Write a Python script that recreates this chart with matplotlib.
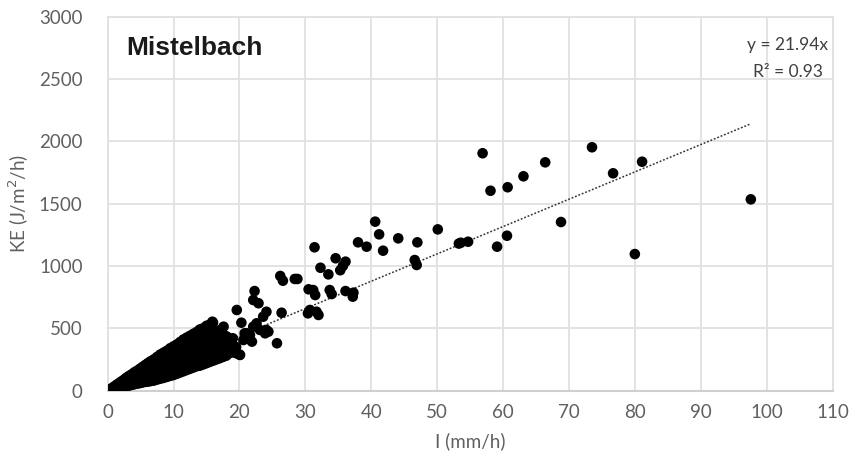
import matplotlib
matplotlib.use("Agg")
import matplotlib.pyplot as plt

# Dense cluster (x: intensity mm/h, y: KE)
cluster_x = [0.2, 0.2, 0.5, 0.5, 0.8, 0.8, 1.1, 1.1, 1.4, 1.4,
             1.7, 1.7, 1.7, 2.0, 2.0, 2.0, 2.3, 2.3, 2.3, 2.6, 2.6, 2.6,
             2.9, 2.9, 2.9, 3.2, 3.2, 3.2, 3.5, 3.5, 3.5, 3.8, 3.8, 3.8,
             4.1, 4.1, 4.1, 4.5, 4.5, 4.5, 4.5, 4.9, 4.9, 4.9, 4.9,
             5.3, 5.3, 5.3, 5.3, 5.7, 5.7, 5.7, 5.7, 6.1, 6.1, 6.1, 6.1,
             6.5, 6.5, 6.5, 6.5, 6.5, 7.0, 7.0, 7.0, 7.0, 7.0,
             7.5, 7.5, 7.5, 7.5, 7.5, 8.0, 8.0, 8.0, 8.0, 8.0,
             8.5, 8.5, 8.5, 8.5, 8.5, 9.0, 9.0, 9.0, 9.0, 9.0,
             9.5, 9.5, 9.5, 9.5, 9.5, 10.0, 10.0, 10.0, 10.0, 10.0,
             10.5, 10.5, 10.5, 10.5, 10.5, 11.0, 11.0, 11.0, 11.0, 11.0,
             11.5, 11.5, 11.5, 11.5, 11.5, 12.0, 12.0, 12.0, 12.0, 12.0,
             12.5, 12.5, 12.5, 12.5, 12.5, 13.0, 13.0, 13.0, 13.0, 13.0,
             13.5, 13.5, 13.5, 13.5, 13.5, 14.0, 14.0, 14.0, 14.0, 14.0,
             14.5, 14.5, 14.5, 14.5, 14.5, 15.0, 15.0, 15.0, 15.0, 15.0,
             15.5, 15.5, 15.5, 15.5, 15.5, 16.0, 16.0, 16.0, 16.0, 16.0,
             16.5, 16.5, 16.5, 17.0, 17.0, 17.0, 17.5, 17.5,
             18.0, 18.0, 18.0, 18.5, 18.5, 19.0, 19.0, 19.5, 19.5, 20.0]
cluster_y = [2, 6, 5, 14, 9, 25, 13, 36, 17, 48,
             21, 58, 38, 25, 70, 45, 29, 80, 52, 33, 92, 60,
             37, 105, 68, 40, 115, 75, 44, 125, 85, 48, 135, 92,
             52, 148, 100, 56, 160, 108, 140, 60, 175, 118, 150,
             65, 190, 125, 160, 70, 205, 130, 170, 72, 220, 140, 180,
             76, 235, 150, 195, 115, 80, 250, 160, 210, 120,
             88, 270, 170, 225, 130, 95, 290, 185, 240, 140,
             102, 305, 195, 255, 150, 110, 320, 205, 270, 160,
             118, 340, 215, 285, 165, 125, 355, 230, 300, 175,
             135, 370, 240, 310, 185, 145, 390, 250, 325, 195,
             155, 410, 260, 340, 205, 165, 425, 275, 355, 215,
             175, 440, 285, 370, 225, 185, 455, 300, 385, 240,
             195, 470, 310, 400, 250, 200, 490, 320, 410, 260,
             210, 500, 335, 420, 270, 220, 520, 350, 440, 280,
             230, 530, 360, 450, 290, 240, 545, 380, 460, 300,
             250, 400, 330, 260, 420, 350, 270, 380,
             280, 400, 330, 300, 370, 310, 420, 300, 350, 290]

# More cluster events lying between the columns above
cluster2_x = [3.0, 3.0, 4.3, 4.3, 5.1, 5.1, 5.1, 5.9, 5.9, 5.9,
              6.8, 6.8, 6.8, 6.8, 7.8, 7.8, 7.8, 7.8, 8.8, 8.8, 8.8, 8.8,
              9.8, 9.8, 9.8, 9.8, 10.8, 10.8, 10.8, 10.8,
              11.8, 11.8, 11.8, 11.8, 11.8, 12.8, 12.8, 12.8, 12.8,
              13.8, 13.8, 13.8, 13.8, 14.8, 14.8, 14.8, 14.8,
              15.8, 15.8, 15.8, 15.8, 16.8, 16.8, 16.8, 17.8, 17.8, 17.8,
              18.8, 18.8]
cluster2_y = [55, 90, 80, 125, 95, 140, 175, 100, 155, 195,
              105, 135, 185, 230, 115, 155, 205, 260, 125, 180, 235, 295,
              150, 200, 265, 325, 165, 220, 285, 355,
              185, 240, 305, 385, 410, 205, 260, 335, 420,
              225, 285, 360, 440, 245, 310, 390, 475,
              265, 330, 410, 500, 290, 360, 470, 300, 360, 440,
              330, 400]

# Scattered individual events
events_x = [56.9, 58.1, 60.7, 63.1, 66.4, 73.5, 76.7, 81.1, 97.6, 68.8,
            60.6, 59.1, 80.0, 53.6, 54.7, 53.3,
            40.6, 41.2, 41.8, 44.1, 47.0, 46.6, 46.9, 50.1,
            38.0, 39.3, 31.4, 34.6, 36.1, 35.7, 35.3, 32.3, 33.5,
            26.2, 26.6, 28.4, 28.8, 30.5, 31.2, 31.5, 33.7, 34.0, 36.1, 37.3, 37.2,
            30.4, 32.0, 30.7, 26.4, 22.3, 22.1, 22.9, 24.1, 23.6, 19.6,
            22.6, 22.1, 23.1, 25.7, 20.3, 21.1, 20.6, 21.9, 24.1, 15.9,
            14.0, 17.6, 20.1, 23.9, 24.4, 20.8, 21.6, 31.7, 14.5, 17.1, 18.1,
            19.1, 18.3]
events_y = [1905, 1604, 1632, 1720, 1832, 1953, 1744, 1837, 1535, 1353,
            1243, 1155, 1096, 1187, 1195, 1180,
            1356, 1254, 1123, 1222, 1190, 1048, 1008, 1294,
            1190, 1155, 1150, 1062, 1035, 1000, 966, 986, 933,
            920, 882, 896, 896, 813, 807, 767, 807, 775, 799, 786, 754,
            620, 607, 647, 625, 799, 727, 701, 633, 593, 647,
            540, 513, 487, 380, 545, 460, 406, 393, 487, 553,
            487, 513, 286, 460, 473, 460, 446, 633, 406, 486, 433,
            352, 312]

slope = 21.94
r2 = 0.93
trend_x = [0.0, 97.6]

x_ticks = list(range(0, 111, 10))
y_ticks = list(range(0, 3001, 500))

fig = plt.figure(figsize=(8.56, 4.67), dpi=100)
ax = fig.add_axes([0.1257, 0.1636, 0.8469, 0.8004])

grid_c = "#e0e0e0"
ax.set_xlim(0, 110)
ax.set_ylim(0, 3000)
ax.set_xticks(x_ticks)
ax.set_yticks(y_ticks)
ax.grid(True, color=grid_c, linewidth=1.3, zorder=0)
ax.set_axisbelow(True)
for s in ["top", "right", "left"]:
    ax.spines[s].set_color(grid_c)
    ax.spines[s].set_linewidth(1.3)
ax.spines["bottom"].set_color("#d0d0d0")
ax.spines["bottom"].set_linewidth(1.5)
ax.tick_params(length=0, labelsize=13.5, labelcolor="#606060")
ax.tick_params(axis="y", pad=18)
ax.tick_params(axis="x", pad=10)
for lab in ax.get_xticklabels() + ax.get_yticklabels():
    lab.set_family("Lato")

msize = 58
ax.scatter(cluster_x, cluster_y, s=msize, color="black", edgecolors="none", zorder=3)
ax.scatter(cluster2_x, cluster2_y, s=msize, color="black", edgecolors="none", zorder=3)
ax.scatter(events_x, events_y, s=msize, color="black", edgecolors="none", zorder=3)
ax.plot(trend_x, [slope * v for v in trend_x], linestyle=(0, (1.2, 1.2)),
        color="#333333", linewidth=1.1, zorder=2.5)

ax.set_xlabel("I (mm/h)", fontsize=13.5, color="#606060", family="Lato", labelpad=8)
ax.set_ylabel("KE (J/m$^2$/h)", fontsize=13.5, color="#606060", family="Lato", labelpad=6)

ax.text(2.9, 2750, "Mistelbach", fontsize=19, fontweight="bold", family="Liberation Sans",
        color="#1a1a1a", va="center", ha="left")
ax.text(109.3, 2770, f"y = {slope:.2f}x", fontsize=12.5, color="#404040", family="Lato",
        ha="right", va="center")
ax.text(108.5, 2560, f"R² = {r2:.2f}", fontsize=12.5, color="#404040", family="Lato",
        ha="right", va="center")

fig.savefig("out.png", dpi=100, facecolor="white")
